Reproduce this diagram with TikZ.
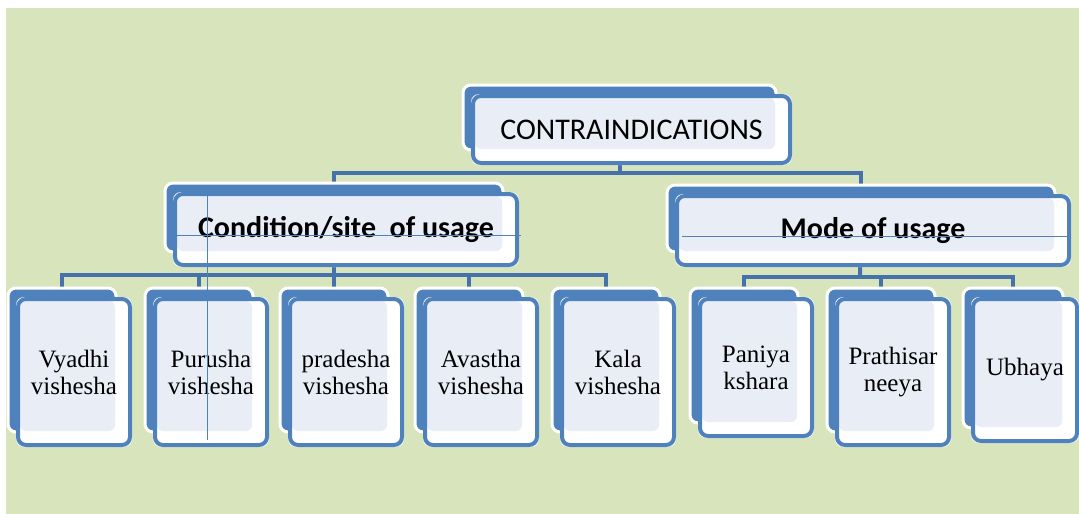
\documentclass[tikz,border=0pt]{standalone}
\usepackage{fontspec}
\setmainfont{Liberation Serif}
\newfontfamily\calib{Carlito}
\pgfdeclarelayer{bg}
\pgfsetlayers{bg,main}
\definecolor{office}{HTML}{4F81BD}
\definecolor{connblue}{HTML}{4672AC}
\definecolor{bggreen}{HTML}{D8E4BC}
\definecolor{lightfill}{HTML}{E9EEF6}
\tikzset{
  backbox/.style={draw=white, line width=3pt, fill=office, rounded corners=8pt, inner sep=0pt},
  frontbox/.style={draw=office, line width=4pt, rounded corners=8pt, inner sep=0pt, align=center},
  conn/.style={draw=connblue, line width=4pt},
  hair/.style={draw=office, line width=0.9pt},
  topfont/.style={font=\calib\fontsize{30}{33}\selectfont},
  midfont/.style={font=\calib\bfseries\fontsize{30}{33}\selectfont},
  leaffont/.style={font=\fontsize{25}{27}\selectfont},
}
% #1 name, #2 bx, #3 by, #4 bw, #5 bh, #6 text style, #7 text
\newcommand\diabox[7]{%
  \node[backbox, minimum width=#4pt, minimum height=#5pt] (#1-back) at ({#2+#4/2},{#3+#5/2}) {};
  \fill[white, rounded corners=8pt] (#2+8,#3+9) rectangle (#2+#4+16,#3+#5+15);
  \fill[lightfill, rounded corners=6pt] (#2+12,#3+13) rectangle (#2+#4-1,#3+#5-1);
  \node[frontbox, #6, minimum width={#4pt+4pt}, minimum height={#5pt+2pt}] (#1) at ({#2+#4/2+12},{#3+#5/2+12}) {#7};
}
\begin{document}
\begin{tikzpicture}[x=1pt,y=-1pt]
\useasboundingbox (0,0) rectangle (1079,514);
\begin{pgfonlayer}{bg}
  \fill[bggreen] (6,8) rectangle (1079,514);
\end{pgfonlayer}

\diabox{top}{463}{85}{313}{65}{topfont}{CONTRAINDICATIONS}
\diabox{cond}{165}{183}{338}{69}{midfont}{Condition/site~ of usage}
\diabox{mode}{667}{185}{388}{67}{midfont}{Mode of usage}

\diabox{vyadhi}{8}{288}{108}{144}{leaffont}{Vyadhi\\vishesha}
\diabox{purusha}{145}{288}{108}{144}{leaffont}{Purusha\\vishesha}
\diabox{pradesha}{280}{288}{108}{144}{leaffont}{pradesha\\vishesha}
\diabox{avastha}{415}{288}{108}{144}{leaffont}{Avastha\\vishesha}
\diabox{kala}{552}{288}{108}{144}{leaffont}{Kala\\vishesha}

\diabox{paniya}{690}{288}{108}{135}{leaffont}{Paniya\\kshara}
\diabox{prathi}{827}{288}{108}{144}{leaffont}{Prathisar\\neeya}
\diabox{ubhaya}{963}{288}{100}{140}{leaffont}{Ubhaya}

\coordinate (bus0) at (619.5,173);
\coordinate (bus1) at (334,275);
\coordinate (bus2) at (860,277);
\begin{pgfonlayer}{bg}
  \draw[conn] (top-back.center) -- (bus0);
  \draw[conn] (bus0) -| (cond-back.center);
  \draw[conn] (bus0) -| (mode-back.center);
  \draw[conn] (cond-back.center) -- (bus1);
  \foreach \n in {vyadhi,purusha,pradesha,avastha,kala}
    \draw[conn] (bus1) -| (\n-back.center);
  \draw[conn] (mode-back.center) -- (bus2);
  \foreach \n in {paniya,prathi,ubhaya}
    \draw[conn] (bus2) -| (\n-back.center);
\end{pgfonlayer}

% thin stray rules visible in the picture
\draw[hair] (207,195) -- (207,440);
\draw[hair] (177,235) -- (521,235);
\draw[hair] (682,236) -- (1069,236);
\end{tikzpicture}
\end{document}
